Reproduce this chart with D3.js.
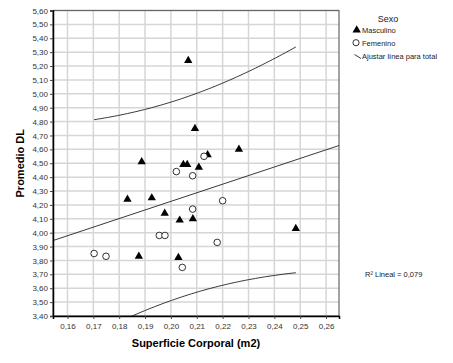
<!DOCTYPE html>
<html>
<head>
<meta charset="utf-8">
<script src="https://cdn.jsdelivr.net/npm/d3@7"></script>
<style>
  body{margin:0;background:#fff;}
  text{font-family:"Liberation Sans",Arial,sans-serif;}
</style>
</head>
<body>
<svg id="chart" width="453" height="363"></svg>
<script>
// data
const masculinoX=[0.2067,0.2093,0.1887,0.2048,0.2063,0.2263,0.2142,0.2108,0.1832,0.1926,0.1976,0.2034,0.2085,0.1876,0.2029,0.2483]
const masculinoY=[5.24,4.75,4.51,4.49,4.49,4.60,4.56,4.47,4.24,4.25,4.14,4.09,4.10,3.83,3.82,4.03]
const femeninoX=[0.2128,0.2021,0.2084,0.2084,0.1955,0.1977,0.1703,0.1749,0.2044,0.2200,0.2179]
const femeninoY=[4.55,4.44,4.41,4.17,3.98,3.98,3.85,3.83,3.75,4.23,3.93]
const xTicks=[0.16,0.17,0.18,0.19,0.20,0.21,0.22,0.23,0.24,0.25,0.26]
const yTicks=[3.40,3.50,3.60,3.70,3.80,3.90,4.00,4.10,4.20,4.30,4.40,4.50,4.60,4.70,4.80,4.90,5.00,5.10,5.20,5.30,5.40,5.50,5.60]
const legendItems=["Masculino","Femenino","Ajustar línea para total"]
const r2Label="R² Lineal = 0,079"

const comma=d3.format(".2f")
const fmt=d=>comma(d).replace(".",",")

const pl=53,pr=339,pt=10.5,pb=316
const xscale=d3.scaleLinear().domain([0.1544,0.265]).range([pl,pr])
const yscale=d3.scaleLinear().domain([3.40,5.60]).range([pb,pt])

const svg=d3.select("#chart")
svg.append("defs").append("clipPath").attr("id","clip")
  .append("rect").attr("x",pl).attr("y",pt).attr("width",pr-pl).attr("height",pb-pt)

// grid
svg.append("g").selectAll("line").data(xTicks).enter().append("line")
  .attr("x1",d=>xscale(d)).attr("x2",d=>xscale(d)).attr("y1",pt).attr("y2",pb)
  .attr("stroke","#d6d6d6").attr("stroke-width",1.5)
svg.append("g").selectAll("line").data(yTicks).enter().append("line")
  .attr("x1",pl).attr("x2",pr).attr("y1",d=>yscale(d)).attr("y2",d=>yscale(d))
  .attr("stroke","#d6d6d6").attr("stroke-width",1.5)

svg.append("rect").attr("x",pl).attr("y",pt).attr("width",pr-pl).attr("height",pb-pt)
  .attr("fill","none").attr("stroke","#666").attr("stroke-width",1.2)

// regression + 95% individual prediction interval
const allX=masculinoX.concat(femeninoX)
const allY=masculinoY.concat(femeninoY)
const n=allX.length
const mx=d3.mean(allX),my=d3.mean(allY)
const sxx=d3.sum(allX,v=>(v-mx)*(v-mx))
const sxy=d3.sum(allX.map((v,i)=>(v-mx)*(allY[i]-my)))
const b=sxy/sxx,a=my-b*mx
const s=Math.sqrt(d3.sum(allX.map((v,i)=>Math.pow(allY[i]-(a+b*v),2)))/(n-2))
const tval=2.06
const x0=d3.min(allX),x1=d3.max(allX)
const band=d3.range(0,61).map(i=>x0+(x1-x0)*i/60)
const half=v=>tval*s*Math.sqrt(1+1/n+(v-mx)*(v-mx)/sxx)
const line=d3.line().x(d=>xscale(d[0])).y(d=>yscale(d[1]))
const lines=svg.append("g").attr("clip-path","url(#clip)")
lines.append("path").datum(xscale.domain().map(v=>[v,a+b*v])).attr("d",line)
  .attr("fill","none").attr("stroke","#222").attr("stroke-width",0.9)
lines.append("path").datum(band.map(v=>[v,a+b*v+half(v)])).attr("d",line)
  .attr("fill","none").attr("stroke","#222").attr("stroke-width",0.9)
lines.append("path").datum(band.map(v=>[v,a+b*v-half(v)])).attr("d",line)
  .attr("fill","none").attr("stroke","#222").attr("stroke-width",0.9)

// points
const tri=d3.symbol().type(d3.symbolTriangle).size(30)
svg.append("g").selectAll("path").data(masculinoX).enter().append("path")
  .attr("d",tri)
  .attr("transform",(d,i)=>"translate("+xscale(d)+","+yscale(masculinoY[i])+")")
  .attr("fill","#000")
svg.append("g").selectAll("circle").data(femeninoX).enter().append("circle")
  .attr("cx",d=>xscale(d)).attr("cy",(d,i)=>yscale(femeninoY[i])).attr("r",3.3)
  .attr("fill","#fff").attr("stroke","#000").attr("stroke-width",0.8)

// axes
const xaxis=d3.axisBottom(xscale).tickValues(xTicks).tickFormat(fmt).tickSize(3).tickPadding(4)
const gx=svg.append("g").attr("transform","translate(0,"+pb+")").call(xaxis)
const yaxis=d3.axisLeft(yscale).tickValues(yTicks).tickFormat(fmt).tickSize(3).tickPadding(2)
const gy=svg.append("g").attr("transform","translate("+pl+",0)").call(yaxis)
;[gx,gy].forEach(g=>{
  g.select(".domain").attr("stroke","#000").attr("stroke-width",1.5)
  g.selectAll(".tick line").attr("stroke","#444")
  g.selectAll(".tick text").attr("fill","#333").style("font-size","8px")
})

svg.append("text").attr("x",(pl+pr)/2).attr("y",347).attr("text-anchor","middle")
  .style("font-size","11px").style("font-weight","bold").text("Superficie Corporal (m2)")
svg.append("text").attr("transform","translate(24,"+((pt+pb)/2)+") rotate(-90)")
  .attr("text-anchor","middle").style("font-size","11px").style("font-weight","bold").text("Promedio DL")

// legend
const lg=svg.append("g")
lg.append("text").attr("x",388).attr("y",22).attr("text-anchor","middle").style("font-size","9px").attr("fill","#222").text("Sexo")
lg.append("path").attr("d",tri).attr("transform","translate(356.7,30)").attr("fill","#000")
lg.append("circle").attr("cx",356).attr("cy",42.7).attr("r",3.1).attr("fill","#fff").attr("stroke","#000").attr("stroke-width",0.8)
lg.append("line").attr("x1",354.5).attr("y1",54.5).attr("x2",361).attr("y2",58.5).attr("stroke","#222").attr("stroke-width",0.9)
lg.selectAll(".lt").data(legendItems).enter().append("text").attr("class","lt")
  .attr("x",362).attr("y",(d,i)=>32.5+i*13).style("font-size","7.5px").attr("fill","#222").text(d=>d)

svg.append("text").attr("x",365).attr("y",276.5).style("font-size","7.5px").attr("fill","#222").text(r2Label)
</script>
</body>
</html>
